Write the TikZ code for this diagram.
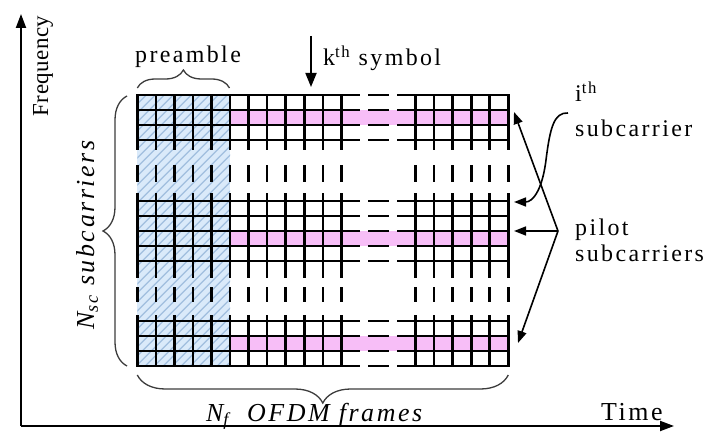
\documentclass[tikz,border=0pt]{standalone}
\usepackage{fontspec}
\setmainfont{Liberation Serif}
\newfontfamily\lab[LetterSpace=10]{Liberation Serif}
\newfontfamily\freqfont[LetterSpace=2]{Liberation Serif}
\usetikzlibrary{arrows.meta,decorations.pathreplacing}
\definecolor{pinkrow}{RGB}{247,190,247}
\definecolor{prefill}{RGB}{218,234,250}
\definecolor{prehatch}{RGB}{160,190,222}
\definecolor{bracegray}{RGB}{60,60,60}
\begin{document}
\begin{tikzpicture}[x=1bp,y=-1bp,
  gridline/.style={line width=2.6bp, line cap=rect, black},
  hatchline/.style={prehatch, line width=1.3bp},
  bracestyle/.style={bracegray, line width=1.3bp, decorate},
  axisline/.style={line width=2bp, black, -{Triangle[length=14bp,width=10bp]}},
  ptr/.style={line width=1.6bp, black, -{Triangle[length=12bp,width=9bp]}},
  lab24/.style={inner sep=0pt, font=\lab\fontsize{24}{28}\selectfont},
  lab26/.style={inner sep=0pt, font=\lab\fontsize{26}{30}\selectfont},
  it26/.style={inner sep=0pt, font=\lab\itshape\fontsize{26}{30}\selectfont},
  freqlab/.style={inner sep=0pt}]
\useasboundingbox (0,0) rectangle (707,435);
% coordinates
\coordinate (origin) at (21,426);
\coordinate (ftop) at (21,14);
\coordinate (tend) at (674,426);
\coordinate (ktop) at (311,36);
\coordinate (ktip) at (311,87);
\coordinate (pilotsrc) at (558,231);
\coordinate (tip1) at (514,112);
\coordinate (tip2) at (514,231);
\coordinate (tip3) at (518,343);
\coordinate (ithsrc) at (568,113);
\coordinate (itip) at (514,202);
% preamble fill and hatch
\fill[prefill] (137.3,95) rectangle (230.05,366);
\begin{scope}
  \clip (137.3,95) rectangle (230.05,366);
  \foreach \i in {0,...,45} \draw[hatchline] ({-142.7+\i*9},366) -- ++(300,-300);
\end{scope}
% pilot rows
\foreach \ya/\yb in {110/125,231/246,336/351}
  \fill[pinkrow] (230.05,\ya) rectangle (508.3,\yb);
% horizontal grid lines
\foreach \y in {95,110,125,140,201,216,231,246,261,321,336,351,366} {
  \draw[gridline] (137.3,\y) -- (358.7,\y);
  \draw[gridline] (369.3,\y) -- (387.7,\y);
  \draw[gridline] (398.2,\y) -- (508.3,\y);
}
% vertical grid lines
\foreach \k in {0,...,11,15,16,17,18,19,20} {
  \pgfmathsetmacro\xx{137.3+18.55*\k}
  \draw[gridline] (\xx,95) -- (\xx,149);
  \draw[gridline] (\xx,166) -- (\xx,181);
  \draw[gridline] (\xx,194) -- (\xx,277);
  \draw[gridline] (\xx,288) -- (\xx,301);
  \draw[gridline] (\xx,316) -- (\xx,366);
}
% braces
\draw[bracestyle, decoration={brace, amplitude=24bp}] (127,366) -- (127,96);
\draw[bracestyle, decoration={brace, amplitude=28bp}] (508.3,375) -- (137.3,375);
\draw[bracestyle, decoration={brace, amplitude=18bp}] (137.3,88) -- (229.5,88);
% axes
\draw[axisline] (origin) -- (ftop);
\draw[axisline] (origin) -- (tend);
% k-th symbol arrow
\draw[line width=1.8bp, -{Triangle[length=14bp,width=11bp]}] (ktop) -- (ktip);
% right arrows
\draw[ptr] (pilotsrc) -- (tip1);
\draw[ptr] (pilotsrc) -- (tip2);
\draw[ptr] (pilotsrc) -- (tip3);
\draw[ptr] (ithsrc) .. controls (554,112) and (550,128) .. (546,160) .. controls (542,192) and (532,202) .. (itip);
% labels
\node[freqlab, rotate=90] (freq) at (43,66) {\freqfont\fontsize{23}{27}\selectfont Frequency};
\node[it26, rotate=90] (nsc) at (87,235) {N\textsubscript{sc} subcarriers};
\node[it26, anchor=base west] (nf) at (206,421) {N\textsubscript{f}\ \ OFDM frames};
\node[lab26, anchor=base west] (time) at (601,420) {Time};
\node[lab24, anchor=base west] (pre) at (135,63) {preamble};
\node[lab24, anchor=base west] (ksym) at (323,66) {k\textsuperscript{th} symbol};
\node[lab24, anchor=base west] (ith) at (575,102) {i\textsuperscript{th}};
\node[lab24, anchor=base west] (subc) at (575,137) {subcarrier};
\node[lab24, anchor=base west] (pilot) at (575,236) {pilot};
\node[lab24, anchor=base west] (pilotsub) at (575,262) {subcarriers};
\end{tikzpicture}
\end{document}
